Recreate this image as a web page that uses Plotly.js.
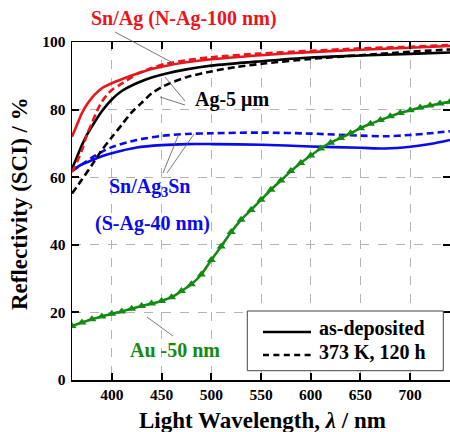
<!DOCTYPE html>
<html>
<head>
<meta charset="utf-8">
<script src="https://cdn.plot.ly/plotly-3.0.1.min.js"></script>
<style>html,body{margin:0;padding:0;background:#fff;}#chart{width:450px;height:432px;}</style>
</head>
<body>
<div id="chart"></div>
<script>
// Sn/Ag (N-Ag-100 nm)
const redSolidWl = [360, 365, 370, 375, 380, 390, 400, 410, 425, 440, 455, 475, 500, 550, 600, 650, 700, 740];
const redSolidR  = [72.0, 75.5, 79.0, 81.5, 83.5, 86.3, 87.8, 89.0, 90.6, 92.0, 93.0, 94.0, 94.9, 96.1, 97.0, 97.7, 98.3, 98.8];
const redDashWl  = [360, 365, 370, 375, 380, 385, 390, 395, 400, 408, 415, 425, 440, 455, 475, 500, 550, 600, 650, 700, 740];
const redDashR   = [61.5, 64.5, 68.0, 72.5, 76.0, 79.5, 82.3, 84.3, 85.8, 87.3, 88.6, 90.5, 92.3, 93.6, 94.6, 95.5, 96.6, 97.4, 98.1, 98.6, 99.1];
// Ag-5 um
const blkSolidWl = [360, 365, 370, 375, 380, 390, 400, 410, 425, 440, 455, 475, 500, 550, 600, 650, 700, 740];
const blkSolidR  = [62.5, 66.0, 69.5, 72.5, 75.0, 79.5, 83.0, 85.5, 87.8, 89.5, 90.7, 91.9, 93.0, 94.3, 95.4, 96.0, 96.5, 96.9];
const blkDashWl  = [360, 370, 380, 390, 400, 410, 420, 430, 440, 450, 460, 475, 500, 525, 555, 600, 650, 700, 740];
const blkDashR   = [55.2, 59.3, 63.6, 68.0, 71.8, 75.5, 79.2, 82.0, 84.8, 86.6, 88.0, 89.6, 91.3, 92.6, 93.7, 95.0, 96.1, 97.1, 97.8];
// Sn/Ag3Sn (S-Ag-40 nm)
const bluSolidWl = [360, 370, 380, 390, 400, 425, 450, 475, 500, 550, 600, 650, 675, 700, 720, 740];
const bluSolidR  = [62.0, 63.8, 65.0, 66.2, 67.1, 68.8, 69.5, 69.8, 69.8, 69.6, 69.1, 68.7, 68.5, 69.0, 69.8, 71.0];
const bluDashWl  = [360, 370, 380, 390, 400, 425, 450, 475, 500, 550, 600, 650, 675, 700, 720, 740];
const bluDashR   = [61.8, 63.8, 65.8, 67.5, 68.9, 71.0, 72.2, 72.8, 73.0, 73.2, 72.9, 72.3, 72.1, 72.5, 73.0, 73.6];
// Au -50 nm
const auWl = [360,370,380,390,400,410,420,430,440,450,460,470,480,490,500,510,520,530,540,550,560,570,580,590,600,610,620,630,640,650,660,670,680,690,700,710,720,730,740];
const auR  = [16.0,17.0,18.0,18.8,19.6,20.3,21.1,21.9,22.6,23.4,24.5,26.3,28.3,31.2,35.5,39.5,43.8,47.4,50.3,53.3,56.3,59.0,61.8,64.2,66.4,68.5,70.2,71.6,73.0,74.5,75.8,76.9,78.0,79.0,79.8,80.6,81.2,81.8,82.3];

const xTicks = [400, 450, 500, 550, 600, 650, 700];
const yTicks = [0, 20, 40, 60, 80, 100];
const legendNames = ['as-deposited', '373 K, 120 h'];

const RED = '#e8161c', BLACK = '#000000', BLUE = '#0a0aee', GREEN = '#148a14';
const FONT = 'Liberation Serif';
const dashPat = '7px,4px';

function tr(x, y, color, dash) {
  return {
    x: x, y: y, type: 'scatter', mode: 'lines', showlegend: false, hoverinfo: 'skip',
    line: {color: color, width: 2.6, dash: dash, shape: 'spline', smoothing: 0.8}
  };
}

const data = [
  tr(bluSolidWl, bluSolidR, BLUE, 'solid'),
  tr(bluDashWl, bluDashR, BLUE, dashPat),
  tr(blkDashWl, blkDashR, BLACK, dashPat),
  tr(blkSolidWl, blkSolidR, BLACK, 'solid'),
  tr(redSolidWl, redSolidR, RED, 'solid'),
  tr(redDashWl, redDashR, RED, dashPat),
  {x: auWl, y: auR, type: 'scatter', mode: 'lines+markers', showlegend: false, hoverinfo: 'skip',
   line: {color: GREEN, width: 2.6, shape: 'spline', smoothing: 0.8},
   marker: {symbol: 'triangle-up', size: 8, color: GREEN}}
];

const axisCommon = {
  showline: true, linecolor: '#000', linewidth: 1.5, mirror: 'allticks',
  ticks: 'inside', ticklen: 7, tickwidth: 2, tickcolor: '#000',
  showgrid: true, gridcolor: '#b4b4b4', griddash: 'dash', gridwidth: 1,
  zeroline: false, fixedrange: true,
  tickfont: {family: FONT, size: 15.5, color: '#000', weight: 'bold'}
};

const px2x = p => (p - 72) / 378;
const px2y = p => (380 - p) / 338;
function lead(x0, y0, x1, y1) {
  return {type: 'line', xref: 'paper', yref: 'paper', x0: px2x(x0), y0: px2y(y0), x1: px2x(x1), y1: px2y(y1),
          line: {color: '#555', width: 0.8}};
}
function ann(text, cx, cy, color, size, xanchor) {
  return {text: text, xref: 'paper', yref: 'paper', x: px2x(cx), y: px2y(cy), xanchor: xanchor || 'center', yanchor: 'middle',
          showarrow: false, font: {family: FONT, size: size || 20, color: color, weight: 'bold'}};
}

const layout = {
  width: 450, height: 432,
  margin: {l: 72, r: 0, t: 42, b: 52},
  paper_bgcolor: '#fff', plot_bgcolor: '#fff',
  font: {family: FONT, color: '#000'},
  xaxis: Object.assign({}, axisCommon, {range: [360, 740], tickvals: xTicks}),
  yaxis: Object.assign({}, axisCommon, {range: [0, 100], tickvals: yTicks, ticklabelstandoff: 2}),
  showlegend: false,
  annotations: [
    ann('Sn/Ag (N-Ag-100 nm)', 183.5, 18, RED, 20),
    ann('Ag-5 μm', 231.5, 99, BLACK),
    ann('Sn/Ag<sub>3</sub>Sn', 150, 187, BLUE),
    ann('(S-Ag-40 nm)', 152.5, 223, BLUE),
    ann('Au -50 nm', 175, 350, GREEN),
    ann('Light Wavelength, <i>λ</i> / nm', 262, 420, BLACK, 23),
    Object.assign(ann('Reflectivity (SCI) / %', 19, 204, BLACK, 23), {textangle: -90}),
    ann(legendNames[0], 317, 328, BLACK, 20, 'left'),
    ann(legendNames[1], 317, 351.5, BLACK, 20, 'left')
  ],
  shapes: [
    lead(115, 32, 173, 63),
    lead(185, 101, 165, 77),
    lead(185, 105, 160, 97),
    lead(163, 173, 178, 136),
    lead(167, 173, 194, 134),
    lead(147, 317, 173, 336),
    // legend frame and samples
    {type: 'rect', xref: 'paper', yref: 'paper', x0: px2x(247.3), x1: px2x(443.3), y0: px2y(370.7), y1: px2y(311),
     fillcolor: '#fff', line: {color: '#444', width: 1}, layer: 'above'},
    {type: 'line', xref: 'paper', yref: 'paper', x0: px2x(263), x1: px2x(311), y0: px2y(332), y1: px2y(332),
     line: {color: BLACK, width: 2.5}, layer: 'above'},
    {type: 'line', xref: 'paper', yref: 'paper', x0: px2x(263), x1: px2x(311), y0: px2y(355), y1: px2y(355),
     line: {color: BLACK, width: 2.5, dash: '6px,4.4px'}, layer: 'above'}
  ]
};

Plotly.newPlot('chart', data, layout, {displayModeBar: false, staticPlot: true});
</script>
</body>
</html>
